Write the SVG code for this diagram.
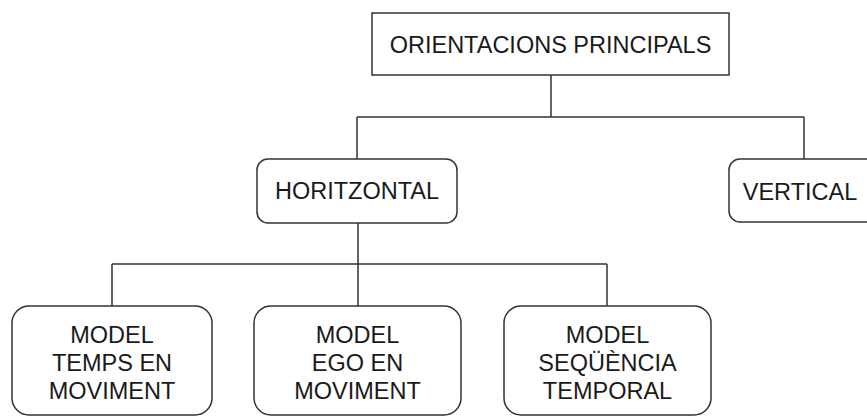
<svg xmlns="http://www.w3.org/2000/svg" width="867" height="417" viewBox="0 0 867 417">
<style>
.box{fill:#fff;stroke:#333;stroke-width:1.5}
.lbl{font-family:"Liberation Sans",Arial,sans-serif;font-size:23.5px;fill:#1a1a1a;text-anchor:middle}
.con{fill:none;stroke:#333;stroke-width:1.5}
</style>
<rect width="867" height="417" fill="#fff"/>
<g id="connectors">
<path class="con" d="M551 75 V117 M357 117 H804 M357 117 V159 M804 117 V159"/>
<path class="con" d="M358 223 V264 M112 264 H607 M112 264 V306 M358 264 V306 M607 264 V306"/>
</g>
<g id="orientacions">
<rect class="box" x="372" y="13" width="357" height="62"/>
<text class="lbl" x="550.5" y="53">ORIENTACIONS PRINCIPALS</text>
</g>
<g id="horitzontal">
<rect class="box" x="257" y="159" width="200" height="64" rx="11"/>
<text class="lbl" x="357" y="199">HORITZONTAL</text>
</g>
<g id="vertical">
<rect class="box" x="729" y="159" width="150" height="63" rx="11"/>
<text class="lbl" x="800" y="200">VERTICAL</text>
</g>
<g id="temps">
<rect class="box" x="12" y="306" width="200" height="109" rx="17"/>
<text class="lbl" x="112" y="343">MODEL</text>
<text class="lbl" x="112" y="371">TEMPS EN</text>
<text class="lbl" x="112" y="399">MOVIMENT</text>
</g>
<g id="ego">
<rect class="box" x="254" y="306" width="207" height="109" rx="17"/>
<text class="lbl" x="357.5" y="343">MODEL</text>
<text class="lbl" x="357.5" y="371">EGO EN</text>
<text class="lbl" x="357.5" y="399">MOVIMENT</text>
</g>
<g id="sequencia">
<rect class="box" x="504" y="306" width="207" height="109" rx="17"/>
<text class="lbl" x="607.5" y="343">MODEL</text>
<text class="lbl" x="607.5" y="371">SEQÜÈNCIA</text>
<text class="lbl" x="607.5" y="399">TEMPORAL</text>
</g>
</svg>
